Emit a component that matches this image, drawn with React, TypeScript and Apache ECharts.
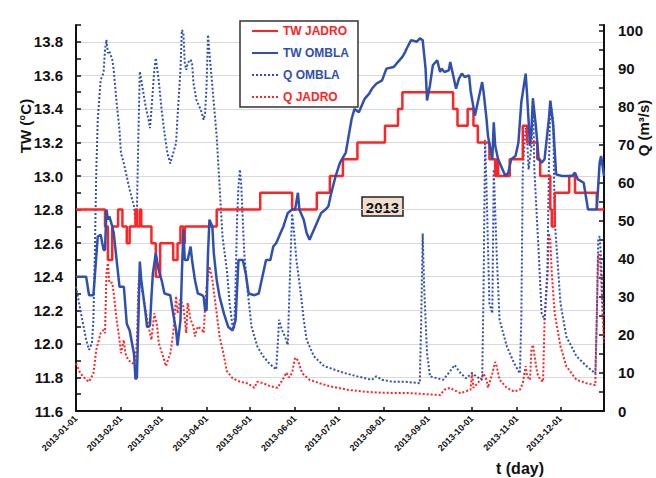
import React, { useEffect, useRef } from "react";
import * as echarts from "echarts";

// ---- categories: every day of 2013 ----
const DAYS: string[] = [];
for (let d = 0; d < 365; d++) {
  DAYS.push(new Date(Date.UTC(2013, 0, 1 + d)).toISOString().slice(0, 10));
}

// ---- series values: [day index, value] ----
const TW_JADRO: [number, number][] = [
  [0, 12.8], [20, 12.7], [22, 12.5], [25, 12.7], [29, 12.8], [32, 12.7], [35, 12.6], [37, 12.7],
  [41, 12.8], [42, 12.7], [44, 12.8], [45, 12.7], [52, 12.6], [55, 12.4], [58, 12.6], [67, 12.5],
  [70, 12.6], [72, 12.7], [74, 12.6], [75, 12.7], [97, 12.8], [127, 12.9], [149, 12.8], [166, 12.9],
  [175, 13.0], [184, 13.1], [194, 13.2], [213, 13.3], [222, 13.4], [225, 13.5], [260, 13.4],
  [263, 13.3], [270, 13.4], [274, 13.3], [277, 13.2], [285, 13.1], [289, 13.0], [290, 13.1],
  [291, 13.0], [299, 13.1], [308, 13.3], [311, 13.2], [318, 13.1], [320, 13.0], [327, 12.8],
  [328, 12.7], [330, 12.9], [340, 13.0], [344, 12.9], [359, 12.8], [364, 12.8],
];

const TW_OMBLA: [number, number][] = [
  [0, 12.4], [7, 12.4], [9, 12.29], [12, 12.29], [15, 12.64], [17, 12.65], [19, 12.56], [20, 12.56],
  [21, 12.8], [22, 12.74], [23, 12.76], [25, 12.7], [26, 12.66], [27, 12.58], [30, 12.34], [33, 12.34],
  [35, 12.12], [37, 12.08], [40, 11.94], [41, 11.79], [42, 11.8], [43, 12.14], [44, 12.49], [45, 12.38],
  [48, 12.18], [49, 12.1], [51, 12.11], [52, 12.28], [53, 12.42], [55, 12.54], [57, 12.44], [59, 12.38],
  [61, 12.3], [65, 12.29], [67, 12.18], [69, 12.08], [70, 11.99], [72, 12.14], [73, 12.42], [74, 12.68],
  [75, 12.5], [77, 12.5], [79, 12.58], [80, 12.5], [82, 12.38], [84, 12.3], [87, 12.29], [88, 12.28],
  [89, 12.2], [90, 12.2], [91, 12.54], [92, 12.74], [94, 12.7], [95, 12.54], [97, 12.38], [99, 12.28],
  [102, 12.18], [105, 12.1], [108, 12.08], [110, 12.14], [112, 12.5], [115, 12.5], [117, 12.42],
  [119, 12.3], [123, 12.29], [126, 12.3], [128, 12.38], [129, 12.42], [131, 12.5], [134, 12.5],
  [136, 12.58], [138, 12.6], [141, 12.66], [143, 12.7], [146, 12.78], [149, 12.8], [151, 12.8],
  [153, 12.9], [154, 12.8], [157, 12.74], [159, 12.66], [161, 12.62], [163, 12.66], [165, 12.7],
  [167, 12.74], [169, 12.78], [172, 12.8], [174, 12.82], [176, 12.9], [179, 13.0], [182, 13.08],
  [186, 13.14], [188, 13.24], [190, 13.34], [192, 13.4], [195, 13.38], [197, 13.42], [199, 13.46],
  [202, 13.49], [204, 13.52], [207, 13.55], [211, 13.57], [214, 13.64], [219, 13.65], [222, 13.68],
  [225, 13.71], [227, 13.74], [228, 13.76], [231, 13.81], [235, 13.8], [237, 13.82], [239, 13.81],
  [241, 13.64], [242, 13.45], [244, 13.54], [246, 13.66], [249, 13.69], [251, 13.62], [252, 13.64],
  [254, 13.62], [257, 13.63], [258, 13.68], [260, 13.6], [262, 13.52], [264, 13.58], [266, 13.61],
  [268, 13.59], [271, 13.6], [272, 13.51], [275, 13.36], [277, 13.44], [280, 13.56], [281, 13.5],
  [283, 13.34], [284, 13.24], [287, 13.1], [288, 13.32], [289, 13.18], [291, 13.1], [294, 13.04],
  [296, 13.0], [298, 13.02], [300, 13.1], [303, 13.12], [305, 13.2], [307, 13.44], [310, 13.61],
  [311, 13.48], [313, 13.18], [314, 13.28], [315, 13.46], [317, 13.3], [319, 13.1], [321, 13.08],
  [323, 13.1], [326, 13.34], [327, 13.45], [329, 13.3], [331, 13.01], [335, 13.0], [338, 13.0],
  [342, 13.0], [344, 13.02], [346, 12.98], [350, 12.96], [353, 12.8], [359, 12.8], [361, 13.08],
  [362, 13.12], [364, 13.0],
];

const Q_OMBLA: [number, number][] = [
  [0, 32.7], [3, 26.6], [7, 18.7], [9, 16.1], [11, 17.9], [12, 24], [13, 41.5], [14, 63.4], [15, 76.6],
  [17, 87.1], [18, 88], [19, 88.9], [20, 95], [21, 97.6], [22, 94.1], [23, 94.6], [25, 92.4], [26, 89.7],
  [28, 81], [30, 73.9], [31, 67.8], [33, 65.1], [35, 61.6], [37, 58.2], [40, 53.8], [41, 50.3], [42, 52.9],
  [43, 72.2], [44, 89.3], [45, 87.1], [48, 80.1], [50, 76.6], [51, 74.4], [52, 79.2], [54, 89.7],
  [55, 92.8], [57, 87.1], [59, 79.2], [61, 73.1], [63, 67.8], [65, 65.1], [67, 67.8], [69, 70.5],
  [70, 77.4], [72, 89.7], [73, 100.2], [74, 99.4], [75, 91.5], [76, 89.7], [77, 91.5], [79, 92.4],
  [80, 91.5], [81, 86.2], [83, 81.8], [86, 79.2], [88, 76.6], [89, 78.3], [90, 85.4], [91, 98.9],
  [92, 94.1], [94, 85.4], [97, 72.2], [99, 59], [101, 45.9], [104, 37.1], [106, 28], [108, 22],
  [109, 21.5], [110, 33], [111, 50], [112, 59], [113, 63.5], [114, 59], [115, 50], [116, 41.5],
  [118, 32.7], [121, 22.2], [125, 17], [129, 14.4], [133, 12.6], [138, 10.9], [139, 17], [140, 24],
  [142, 21.3], [144, 19.6], [146, 17.4], [148, 41.5], [149, 51.9], [150, 48.4], [152, 39.6],
  [155, 30.8], [157, 24], [159, 18.7], [164, 14.4], [171, 11.8], [178, 10.9], [185, 10], [194, 9.1],
  [204, 8.2], [207, 9.1], [211, 8.2], [218, 7.7], [227, 7.7], [237, 7.3], [238, 24], [239, 46.7],
  [240, 32.7], [242, 15.2], [244, 9.1], [253, 8.2], [257, 10], [261, 12.1], [265, 10], [269, 8.6],
  [273, 10], [276, 9.1], [280, 8.2], [281, 32.7], [282, 71.3], [283, 59], [285, 28.3], [287, 25.7],
  [288, 63.5], [290, 41.5], [292, 24], [297, 17], [302, 12.6], [306, 9.9], [307, 24], [308, 63.5],
  [310, 74.4], [311, 71.8], [312, 63.5], [314, 69.6], [315, 82.3], [316, 63.5], [319, 41.5],
  [321, 25.7], [323, 24], [325, 37.1], [326, 63.5], [327, 81.1], [329, 76.6], [330, 50.3],
  [334, 28.3], [338, 19.6], [345, 14.4], [352, 11.8], [358, 9.9], [359, 24], [360, 45], [361, 46],
  [362, 40], [363, 30], [364, 25],
];

const Q_JADRO: [number, number][] = [
  [0, 12.5], [3, 9.9], [7, 8.2], [9, 7.7], [12, 9.9], [14, 16.1], [17, 20.5], [19, 21.3], [20, 20.5],
  [21, 36.3], [22, 38.9], [23, 33.7], [25, 33.7], [26, 31], [28, 24], [30, 18.7], [31, 15.2], [33, 18.7],
  [34, 15.2], [36, 13.4], [39, 12.5], [41, 13.4], [42, 18.7], [43, 32.7], [44, 37.1], [45, 32.7],
  [48, 26.6], [50, 22.2], [52, 18.7], [54, 25.7], [56, 22.2], [57, 17.9], [60, 14.4], [62, 11.8],
  [65, 15.2], [67, 20.5], [69, 30.2], [70, 25.7], [72, 29.3], [74, 27.5], [75, 24], [76, 20.5],
  [77, 28.4], [79, 24], [81, 22.2], [82, 19.6], [84, 22.2], [87, 21.3], [88, 20.5], [89, 27.5],
  [90, 32.7], [92, 38], [94, 34.5], [97, 25.7], [99, 19.6], [102, 14.4], [104, 10.5], [108, 8.6],
  [113, 7.7], [118, 7.3], [123, 6.1], [125, 7.7], [129, 7.3], [134, 6.5], [139, 6.1], [143, 8.6],
  [145, 10.1], [147, 8.8], [149, 10.1], [151, 14], [153, 13.3], [156, 9.9], [161, 8.2], [168, 7.3],
  [175, 6.5], [187, 5.6], [198, 5.1], [210, 4.8], [230, 4.7], [251, 4.2], [254, 5.6], [258, 6.1],
  [260, 5.6], [265, 4.7], [272, 5.6], [273, 10.1], [274, 6.1], [276, 7], [279, 8.2], [281, 9.9],
  [283, 8.2], [284, 6.1], [287, 9.9], [289, 12.9], [290, 11.8], [292, 8.2], [297, 6.1], [302, 5.1],
  [306, 5.6], [308, 7.3], [310, 11.8], [311, 9.1], [313, 8.2], [314, 16.1], [315, 17.4], [316, 14.8],
  [318, 9.9], [320, 8.2], [322, 7.7], [323, 23.5], [325, 35], [326, 46.7], [327, 45], [328, 36.3],
  [330, 25.7], [334, 17], [338, 11.8], [345, 8.2], [352, 7.3], [358, 6.8], [359, 24], [360, 41],
  [361, 41], [362, 35], [363, 25], [364, 18],
];

const SERIES_NAMES = ["TW JADRO", "TW OMBLA", "Q OMBLA", "Q JADRO"];
const YEAR_LABEL = "2013";

const RED = "#ff2323";
const BLUE = "#3050b0";
const FONT = "Liberation Sans, Arial, sans-serif";

export default function App() {
  const ref = useRef<HTMLDivElement>(null);

  useEffect(() => {
    if (!ref.current) return;
    const chart = echarts.init(ref.current, undefined, { renderer: "svg" });
    const isMonthStart = (_i: number, v: string) => v.endsWith("-01");
    const gridColors = [...Array(12).fill("#d9d9d9"), "rgba(0,0,0,0)"];

    chart.setOption({
      animation: false,
      backgroundColor: "#ffffff",
      grid: { left: 76, right: 52, top: 25, bottom: 67, containLabel: false },
      legend: {
        orient: "vertical",
        left: 240,
        top: 21,
        padding: [4, 9, 4, 11],
        itemGap: 10,
        itemWidth: 26,
        itemHeight: 14,
        borderColor: "#333",
        borderWidth: 1.5,
        backgroundColor: "#fff",
        itemStyle: { color: "rgba(0,0,0,0)", borderWidth: 0, opacity: 0 },
        textStyle: { fontFamily: FONT, fontWeight: "bold", fontSize: 12 },
        data: [
          { name: SERIES_NAMES[0], textStyle: { color: RED } },
          { name: SERIES_NAMES[1], textStyle: { color: BLUE } },
          { name: SERIES_NAMES[2], textStyle: { color: BLUE } },
          { name: SERIES_NAMES[3], textStyle: { color: RED } },
        ],
      },
      xAxis: {
        type: "category",
        data: DAYS,
        boundaryGap: false,
        axisLine: { lineStyle: { color: "#111", width: 2 } },
        axisTick: { show: true, inside: true, length: 4, interval: isMonthStart, lineStyle: { color: "#111", width: 1.5 } },
        axisLabel: {
          interval: isMonthStart,
          rotate: 45,
          fontSize: 9,
          fontWeight: "bold",
          fontFamily: FONT,
          color: "#111",
          margin: 6,
        },
        splitLine: { show: false },
      },
      yAxis: [
        {
          type: "value",
          position: "left",
          min: 11.6,
          max: 13.9,
          interval: 0.2,
          axisLine: { show: true, lineStyle: { color: "#111", width: 2 } },
          axisTick: { show: true, inside: true, length: 5, lineStyle: { color: "#111", width: 1.5 } },
          minorTick: { show: true, splitNumber: 2, length: 5, lineStyle: { color: "#111", width: 1.5 } },
          axisLabel: {
            showMaxLabel: false,
            formatter: (v: number) => v.toFixed(1),
            fontSize: 15,
            fontWeight: "bold",
            fontFamily: FONT,
            color: "#111",
            margin: 13,
          },
          splitLine: { show: true, lineStyle: { color: gridColors, width: 1 } },
        },
        {
          type: "value",
          position: "right",
          min: 0,
          max: 101.5,
          interval: 10,
          axisLine: { show: true, lineStyle: { color: "#111", width: 2 } },
          axisTick: { show: true, inside: true, length: 5, lineStyle: { color: "#111", width: 1.5 } },
          minorTick: { show: true, splitNumber: 2, length: 5, lineStyle: { color: "#111", width: 1.5 } },
          axisLabel: {
            showMaxLabel: false,
            fontSize: 15,
            fontWeight: "bold",
            fontFamily: FONT,
            color: "#111",
            margin: 14,
          },
          splitLine: { show: false },
        },
      ],
      series: [
        {
          name: SERIES_NAMES[0],
          type: "line",
          yAxisIndex: 0,
          step: "end",
          data: TW_JADRO,
          symbol: "none",
          z: 4,
          color: RED,
          lineStyle: { color: RED, width: 2.5 },
        },
        {
          name: SERIES_NAMES[1],
          type: "line",
          yAxisIndex: 0,
          data: TW_OMBLA,
          symbol: "none",
          z: 5,
          color: BLUE,
          lineStyle: { color: BLUE, width: 2.5 },
        },
        {
          name: SERIES_NAMES[2],
          type: "line",
          yAxisIndex: 1,
          data: Q_OMBLA,
          symbol: "none",
          z: 3,
          color: BLUE,
          lineStyle: { color: BLUE, width: 2, type: [2, 2] },
        },
        {
          name: SERIES_NAMES[3],
          type: "line",
          yAxisIndex: 1,
          data: Q_JADRO,
          symbol: "none",
          z: 2,
          color: RED,
          lineStyle: { color: RED, width: 2, type: [2, 2] },
        },
      ],
      graphic: [
        {
          type: "text",
          x: 25,
          y: 126,
          rotation: Math.PI / 2,
          style: { text: "TW (°C)", font: `bold 15px ${FONT}`, fill: "#111", align: "center", verticalAlign: "middle" },
        },
        {
          type: "text",
          x: 643,
          y: 128,
          rotation: Math.PI / 2,
          style: { text: "Q (m³/s)", font: `bold 15px ${FONT}`, fill: "#111", align: "center", verticalAlign: "middle" },
        },
        {
          type: "text",
          x: 520,
          y: 468,
          style: { text: "t (day)", font: `bold 16px ${FONT}`, fill: "#111", align: "center", verticalAlign: "middle" },
        },
        {
          type: "group",
          x: 362,
          y: 197,
          z: 20,
          children: [
            { type: "rect", shape: { x: 0, y: 0, width: 41, height: 19 }, style: { fill: "#f3ddcf", stroke: "#222", lineWidth: 1.5 } },
            {
              type: "text",
              x: 20.5,
              y: 10,
              style: { text: YEAR_LABEL, font: `bold 15px ${FONT}`, fill: "#111", align: "center", verticalAlign: "middle" },
            },
          ],
        },
      ],
    });

    return () => chart.dispose();
  }, []);

  return (
    <div
      ref={ref}
      style={{ position: "absolute", left: 0, top: 0, width: 656, height: 478, background: "#fff" }}
    />
  );
}
